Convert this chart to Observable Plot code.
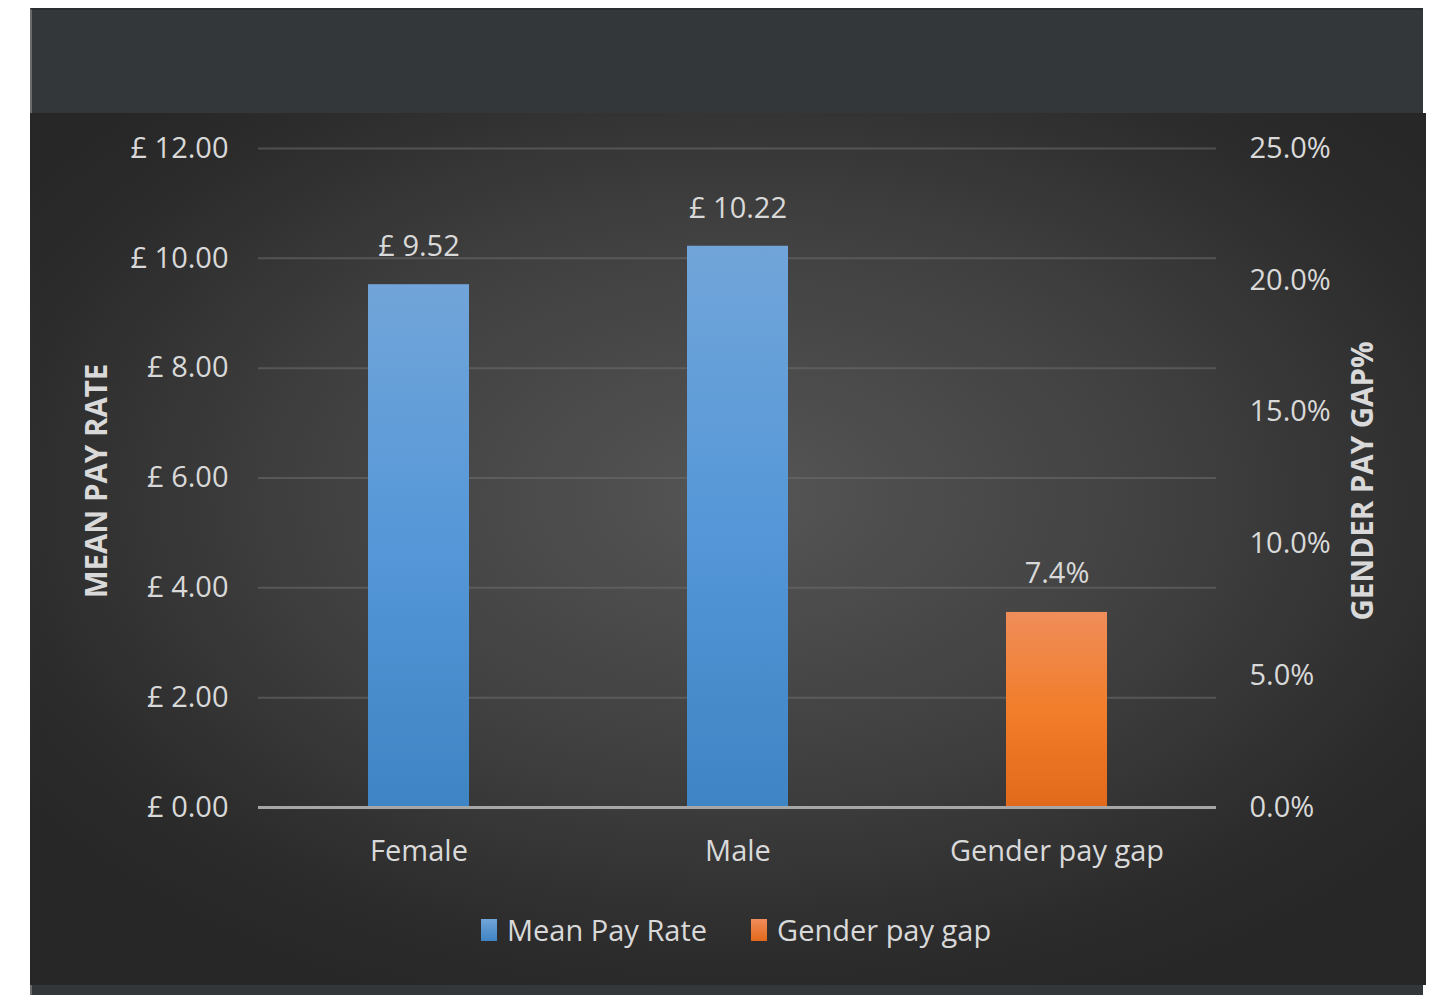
<!DOCTYPE html>
<html>
<head>
<meta charset="utf-8">
<script src="https://cdn.jsdelivr.net/npm/d3@7"></script>
<script src="https://cdn.jsdelivr.net/npm/@observablehq/plot@0.6"></script>
<style>
  html, body { margin: 0; padding: 0; background: #ffffff; width: 1436px; height: 996px; overflow: hidden; }
  #frame { position: absolute; left: 30px; top: 8px; width: 1393px; height: 987px; background: #34373a; border-top: 2px solid #2a2c2e; border-left: 2px solid #6a6a6a; box-sizing: border-box; }
  #panel { position: absolute; left: 30px; top: 113px; width: 1396px; height: 872px;
    background: radial-gradient(ellipse 62% 62% at 51% 44%, #555555 0%, #404040 50%, #2c2c2c 85%, #272727 100%); }
  #chart { position: absolute; left: 30px; top: 113px; }
  #legend { position: absolute; left: 481px; top: 910px; display: flex; align-items: center; font-family: "Open Sans", sans-serif; font-size: 29px; color: #d9d9d9; }
  .sw { display: inline-block; width: 16px; height: 22px; margin-right: 10px; }
  .item { display: flex; align-items: center; margin-right: 44px; }
</style>
</head>
<body>
<div id="frame"></div>
<div id="panel"></div>
<div id="chart"></div>
<div id="legend"></div>
<script>
// Data
const categories = ["Female", "Male", "Gender pay gap"];
const payCategories = ["Female", "Male"];
const payValues = [9.52, 10.22];
const gapCategories = ["Gender pay gap"];
const gapValues = [7.4];
const leftTicks = [0, 2, 4, 6, 8, 10, 12];
const rightTicks = [0, 5, 10, 15, 20, 25];
const leftMax = 12;
const rightMax = 25;
const seriesNames = ["Mean Pay Rate", "Gender pay gap"];

const toLeft = p => p * leftMax / rightMax;

const payData = payCategories.map((c, i) => ({cat: c, v: payValues[i], label: "£ " + payValues[i].toFixed(2)}));
const gapData = gapCategories.map((c, i) => ({cat: c, v: toLeft(gapValues[i]), label: gapValues[i].toFixed(1) + "%"}));

const txt = "#d9d9d9";

const chart = Plot.plot({
  width: 1396,
  height: 780,
  marginLeft: 228,
  marginRight: 210,
  marginTop: 35,
  marginBottom: 86,
  style: {background: "transparent", color: txt, fontFamily: "'Open Sans', sans-serif", fontSize: "29px", overflow: "visible"},
  x: {domain: categories, paddingInner: 0, paddingOuter: 0, label: null},
  y: {domain: [0, leftMax], label: null},
  marks: [
    Plot.gridY(leftTicks.filter(d => d > 0), {stroke: "#6e6e6e", strokeOpacity: 0.55, strokeWidth: 2}),
    Plot.barY(payData, {x: "cat", y: "v", fill: "url(#blueGrad)", insetLeft: 109, insetRight: 109, style: "filter: drop-shadow(3px 1px 3px rgba(0,0,0,0.4))"}),
    Plot.barY(gapData, {x: "cat", y: "v", fill: "url(#orangeGrad)", insetLeft: 109, insetRight: 109, style: "filter: drop-shadow(3px 1px 3px rgba(0,0,0,0.4))"}),
    Plot.ruleY([0], {stroke: "#a6a6a6", strokeWidth: 3}),
    Plot.text(payData, {x: "cat", y: "v", text: "label", dy: -38, fill: txt, fontSize: 29}),
    Plot.text(gapData, {x: "cat", y: "v", text: "label", dy: -39, fill: txt, fontSize: 29}),
    Plot.axisY(leftTicks, {anchor: "left", tickSize: 0, tickPadding: 30, tickFormat: d => "£ " + d.toFixed(2), label: null, fontSize: 29, fill: txt}),
    Plot.axisY(rightTicks.map(toLeft), {anchor: "right", tickSize: 0, tickPadding: 33, tickFormat: d => (d * rightMax / leftMax).toFixed(1) + "%", label: null, fontSize: 29, fill: txt}),
    Plot.axisX({tickSize: 0, tickPadding: 33, label: null, fontSize: 29, fill: txt}),
    Plot.text(["MEAN PAY RATE"], {frameAnchor: "left", textAnchor: "middle", dx: -161, dy: 3, rotate: -90, fontWeight: "bold", fontSize: 29.5, fill: txt}),
    Plot.text(["GENDER PAY GAP%"], {frameAnchor: "right", textAnchor: "middle", dx: 147, dy: 3, rotate: -90, fontWeight: "bold", fontSize: 29.5, fill: txt})
  ]
});

const svg = d3.select(chart.tagName.toLowerCase() === "svg" ? chart : chart.querySelector("svg"));
const defs = svg.insert("defs", ":first-child");
const bg = defs.append("linearGradient").attr("id", "blueGrad").attr("x1", 0).attr("y1", 0).attr("x2", 0).attr("y2", 1);
bg.append("stop").attr("offset", "0%").attr("stop-color", "#71a5d9");
bg.append("stop").attr("offset", "50%").attr("stop-color", "#5597d8");
bg.append("stop").attr("offset", "100%").attr("stop-color", "#3f84c4");
const og = defs.append("linearGradient").attr("id", "orangeGrad").attr("x1", 0).attr("y1", 0).attr("x2", 0).attr("y2", 1);
og.append("stop").attr("offset", "0%").attr("stop-color", "#f08d5a");
og.append("stop").attr("offset", "50%").attr("stop-color", "#f27d2a");
og.append("stop").attr("offset", "100%").attr("stop-color", "#e2691b");

document.getElementById("chart").appendChild(chart);

// Legend
const legend = document.getElementById("legend");
const swatches = ["linear-gradient(#71a5d9, #3f84c4)", "linear-gradient(#f08d5a, #e2691b)"];
seriesNames.forEach((name, i) => {
  const item = document.createElement("div");
  item.className = "item";
  const sw = document.createElement("span");
  sw.className = "sw";
  sw.style.background = swatches[i];
  item.appendChild(sw);
  const t = document.createElement("span");
  t.textContent = name;
  item.appendChild(t);
  legend.appendChild(item);
});
</script>
</body>
</html>
